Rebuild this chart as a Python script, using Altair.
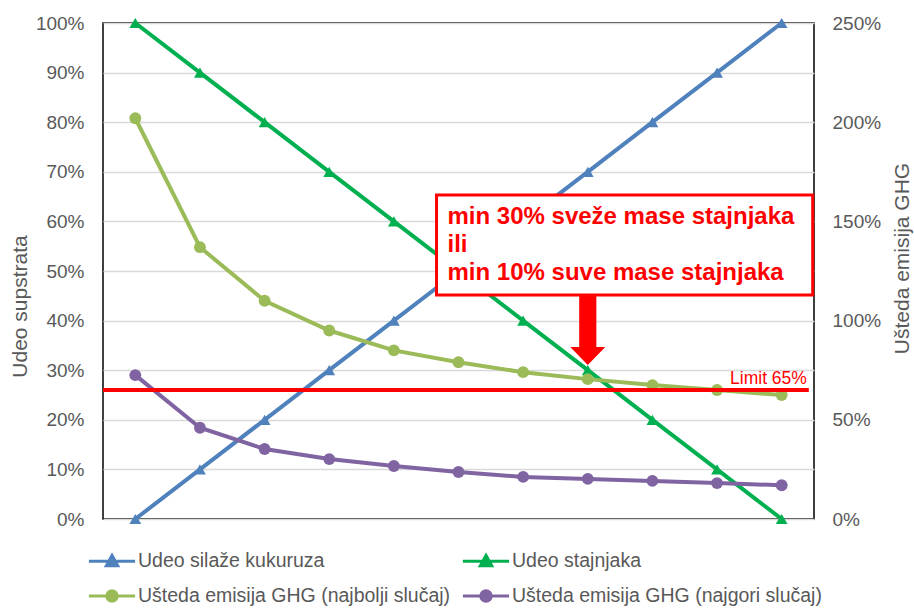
import altair as alt
import pandas as pd

# ---------------- data ----------------
x_idx = list(range(11))
series_names = [
    "Udeo silaže kukuruza",
    "Udeo stajnjaka",
    "Ušteda emisija GHG (najbolji slučaj)",
    "Ušteda emisija GHG (najgori slučaj)",
]
udeo_silaze = [0, 10, 20, 30, 40, 50, 60, 70, 80, 90, 100]
udeo_stajnjaka = [100, 90, 80, 70, 60, 50, 40, 30, 20, 10, 0]
ghg_best = [202, 137, 110, 95, 85, 79, 74, 70.5, 67.5, 65, 62.5]
ghg_worst = [72.5, 46, 35.3, 30.2, 26.7, 23.7, 21.2, 20.2, 19.2, 18.1, 17]
colors = ["#4F81BD", "#00B050", "#9BBB59", "#8064A2"]
left_ticks = list(range(0, 101, 10))
right_ticks = list(range(0, 251, 50))
limit_value = 65
limit_label = "Limit 65%"
box_text = "min 30% sveže mase stajnjaka\nili\nmin 10% suve mase stajnjaka"

# annotation anchors (data units: x index, right-axis %)
box_x = [4.66]
box_x2 = [10.48]
box_y = [112.9]
box_y2 = [163.3]
text_x = [4.83]
text_y = [148.7]
arrow_x = [7.0]
arrow_y = [86.7]
rule_x = [-0.5]
rule_x2 = [10.42]
limit_text_x = [10.39]
limit_text_y = [68.0]

FONT = "Liberation Sans"
GRAY = "#595959"

left_df = pd.DataFrame({
    "x": x_idx * 2,
    "value": udeo_silaze + udeo_stajnjaka,
    "series": [series_names[0]] * 11 + [series_names[1]] * 11,
})
right_df = pd.DataFrame({
    "x": x_idx * 2,
    "value": ghg_best + ghg_worst,
    "series": [series_names[2]] * 11 + [series_names[3]] * 11,
})

xscale = alt.Scale(domain=[-0.5, 10.5], nice=False, zero=False)

def lscale():
    return alt.Scale(domain=[0, 100], nice=False, zero=False)

def rscale():
    return alt.Scale(domain=[0, 250], nice=False, zero=False)

def X(field="x"):
    return alt.X(f"{field}:Q", scale=xscale, axis=None)

TRI = "M-2.2,0H2.2M-0.55,0.45L0,-0.55L0.55,0.45Z"
CIR = "M-2.2,0H2.2M-0.5,0A0.5,0.5 0 1,0 0.5,0A0.5,0.5 0 1,0 -0.5,0Z"

is_tri = f"(datum.value == '{series_names[0]}' || datum.value == '{series_names[1]}')"
color_expr = (
    f"datum.value == '{series_names[0]}' ? '{colors[0]}' : "
    f"datum.value == '{series_names[1]}' ? '{colors[1]}' : "
    f"datum.value == '{series_names[2]}' ? '{colors[2]}' : '{colors[3]}'"
)

def make_legend():
    return alt.Legend(
        title=None, orient="none", legendX=-15, legendY=526,
        direction="horizontal", columns=2, columnPadding=5, rowPadding=12,
        labelFont=FONT, labelFontSize=19.5, labelColor=GRAY, labelLimit=600,
        symbolSize=441, symbolStrokeWidth=3, symbolOffset=12, labelOffset=14,
        symbolOpacity=1,
        symbolType={"expr": f"{is_tri} ? '{TRI}' : '{CIR}'"},
        symbolStrokeColor={"expr": color_expr},
        symbolFillColor={"expr": color_expr},
    )

def color_enc():
    return alt.Color("series:N", scale=alt.Scale(domain=series_names, range=colors),
                     legend=make_legend())

axis_common = dict(
    ticks=False, domain=False, labelFont=FONT, labelFontSize=19, labelColor=GRAY,
    titleFont=FONT, titleFontSize=21, titleColor=GRAY, titleFontWeight="normal",
    titleAngle=270, titleAlign="center", titleBaseline="alphabetic",
    labelExpr="datum.value + '%'",
)
left_axis = alt.Axis(values=left_ticks, orient="left", labelPadding=19, grid=True,
                     gridColor="#D9D9D9", gridWidth=1.5, title="Udeo supstrata",
                     titleX=-77, titleY=283, **axis_common)
right_axis = alt.Axis(values=right_ticks, orient="right", labelPadding=18, grid=False,
                      title="Ušteda emisija GHG", titleX=94, titleY=235,
                      labelAlign="left", **axis_common)

# ---------------- primary-axis series ----------------
left_lines = alt.Chart(left_df).mark_line(strokeWidth=4).encode(
    x=X(), y=alt.Y("value:Q", scale=lscale(), axis=left_axis), color=color_enc(),
)
left_points = alt.Chart(left_df).mark_point(
    filled=True, size=140, opacity=1, shape="triangle-up").encode(
    x=X(), y=alt.Y("value:Q", scale=lscale(), axis=None), color=color_enc(),
)

# ---------------- secondary-axis series ----------------
right_lines = alt.Chart(right_df).mark_line(strokeWidth=4).encode(
    x=X(), y=alt.Y("value:Q", scale=rscale(), axis=right_axis), color=color_enc(),
)
right_points = alt.Chart(right_df).mark_point(
    filled=True, size=140, opacity=1, shape="circle").encode(
    x=X(), y=alt.Y("value:Q", scale=rscale(), axis=None), color=color_enc(),
)

# ---------------- annotations ----------------
rule = alt.Chart(pd.DataFrame({"x": rule_x, "x2": rule_x2, "y": [limit_value]})).mark_rule(
    color="#FF0000", strokeWidth=4).encode(
    x=X(), x2="x2:Q", y=alt.Y("y:Q", scale=rscale(), axis=None))

limit_txt = alt.Chart(pd.DataFrame({"x": limit_text_x, "y": limit_text_y, "t": [limit_label]})).mark_text(
    align="right", baseline="alphabetic", font=FONT, fontSize=17.5, color="#FF0000").encode(
    x=X(), y=alt.Y("y:Q", scale=rscale(), axis=None), text="t:N")

box = alt.Chart(pd.DataFrame({"x": box_x, "x2": box_x2, "y": box_y, "y2": box_y2})).mark_rect(
    fill="white", stroke="#FF0000", strokeWidth=3).encode(
    x=X(), x2="x2:Q", y=alt.Y("y:Q", scale=rscale(), axis=None), y2="y2:Q")

box_txt = alt.Chart(pd.DataFrame({"x": text_x, "y": text_y, "t": [box_text]})).mark_text(
    align="left", baseline="alphabetic", font=FONT, fontSize=24, fontWeight="bold",
    color="#FF0000", lineBreak="\n", lineHeight=28).encode(
    x=X(), y=alt.Y("y:Q", scale=rscale(), axis=None), text="t:N")

ARROW = "M-0.49,-2.97L0.49,-2.97L0.49,0L1,0L0,1.03L-1,0L-0.49,0Z"
arrow = alt.Chart(pd.DataFrame({"x": arrow_x, "y": arrow_y})).mark_point(
    shape=ARROW, size=1225, filled=True, color="#FF0000", opacity=1, strokeWidth=0).encode(
    x=X(), y=alt.Y("y:Q", scale=rscale(), axis=None))

chart = alt.layer(
    left_lines, left_points, right_lines, right_points,
    rule, limit_txt, box, box_txt, arrow,
).resolve_scale(y="independent").properties(
    width=711, height=496,
    autosize=alt.AutoSizeParams(type="none"),
    padding={"left": 103, "top": 23, "right": 100, "bottom": 90},
    background="white",
).configure_view(stroke="black", strokeWidth=1.5)

chart.save("out.html", embed_options={"renderer": "svg", "actions": False})
